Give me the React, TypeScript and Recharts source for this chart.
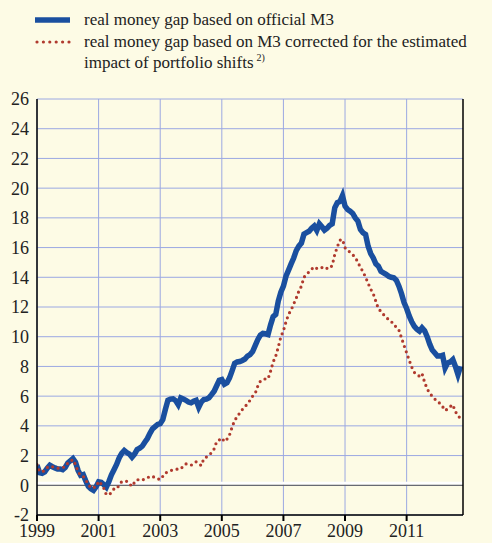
import { LineChart, Line, XAxis, YAxis, CartesianGrid, ReferenceLine } from 'recharts';

// monthly observations, Jan 1999 - Oct 2012
const START_YEAR = 1999;

const officialM3 = [
  // 1999
  1.36, 0.85, 0.8, 0.9, 1.15, 1.35, 1.25, 1.17, 1.1, 1.1, 1.05, 1.2,
  // 2000
  1.5, 1.65, 1.8, 1.55, 1.0, 0.67, 0.72, 0.3, -0.07, -0.24, -0.34, -0.1,
  // 2001
  0.23, 0.2, 0.05, -0.13, 0.25, 0.7, 1.05, 1.4, 1.84, 2.15, 2.34, 2.2,
  // 2002
  2.1, 1.89, 2.1, 2.4, 2.5, 2.63, 2.9, 3.15, 3.5, 3.8, 3.95, 4.1,
  // 2003
  4.15, 4.42, 5.1, 5.72, 5.8, 5.82, 5.7, 5.43, 5.88, 5.8, 5.72, 5.6,
  // 2004
  5.55, 5.65, 5.72, 5.25, 5.6, 5.77, 5.8, 5.89, 6.1, 6.33, 6.7, 7.07,
  // 2005
  7.12, 6.8, 6.9, 7.23, 7.7, 8.2, 8.3, 8.33, 8.4, 8.5, 8.7, 8.8,
  // 2006
  9.0, 9.4, 9.8, 10.1, 10.22, 10.2, 10.15, 10.8, 11.35, 11.5, 12.4, 13.0,
  // 2007
  13.4, 14.07, 14.48, 14.9, 15.3, 15.8, 16.1, 16.3, 16.9, 17.0, 17.1, 17.3,
  // 2008
  17.45, 17.15, 17.6, 17.4, 17.17, 17.3, 17.49, 17.6, 18.68, 19.02, 19.1, 19.5,
  // 2009
  18.79, 18.57, 18.45, 18.3, 18.0, 17.78, 17.22, 17.0, 16.88, 16.09, 15.6, 15.3,
  // 2010
  14.9, 14.75, 14.4, 14.3, 14.2, 14.07, 14.0, 13.97, 13.8, 13.4, 12.9, 12.3,
  // 2011
  11.9, 11.4, 11.0, 10.7, 10.5, 10.37, 10.6, 10.4, 10.0, 9.5, 9.1, 8.9,
  // 2012
  8.7, 8.7, 8.75, 7.9, 8.24, 8.3, 8.46, 8.0, 7.45, 8.0,
];

const correctedM3 = [
  // 1999
  1.39, 0.94, 0.9, 1.0, 1.2, 1.28, 1.25, 1.21, 1.15, 1.17, 1.2, 1.24,
  // 2000
  1.5, 1.62, 1.73, 1.4, 0.9, 0.67, 0.61, 0.35, 0.09, -0.18, -0.15, -0.11,
  // 2001
  0.27, 0.1, -0.18, -0.63, -0.63, -0.5, -0.24, -0.24, 0.0, 0.25, 0.26, 0.27,
  // 2002
  0.1, -0.07, 0.2, 0.38, 0.36, 0.34, 0.45, 0.5, 0.6, 0.61, 0.5, 0.45,
  // 2003
  0.38, 0.6, 0.83, 0.9, 0.99, 1.03, 1.06, 1.1, 1.1, 1.3, 1.44, 1.4,
  // 2004
  1.35, 1.45, 1.58, 1.45, 1.33, 1.8, 1.9, 2.02, 2.2, 2.45, 2.94, 3.05,
  // 2005
  3.19, 2.94, 3.1, 3.39, 3.91, 4.38, 4.6, 4.88, 5.1, 5.28, 5.5, 5.72,
  // 2006
  6.0, 6.18, 6.67, 7.0, 7.12, 7.16, 7.16, 7.68, 8.3, 8.69, 9.3, 10.0,
  // 2007
  10.4, 11.0, 11.5, 11.8, 12.2, 12.6, 13.06, 13.4, 14.0, 14.2, 14.37, 14.55,
  // 2008
  14.71, 14.6, 14.57, 14.65, 14.71, 14.6, 14.59, 14.8, 15.53, 16.05, 16.5, 16.55,
  // 2009
  15.99, 15.8, 15.69, 15.53, 15.3, 15.04, 14.64, 14.4, 14.0, 13.6, 13.2, 12.89,
  // 2010
  12.39, 11.88, 11.7, 11.49, 11.3, 11.16, 11.0, 10.89, 10.6, 10.44, 9.93, 9.41,
  // 2011
  8.92, 8.42, 7.95, 7.6, 7.45, 7.34, 7.52, 6.94, 6.49, 6.2, 5.99, 5.8,
  // 2012
  5.66, 5.5, 5.3, 5.03, 5.14, 5.3, 5.43, 4.94, 4.76, 4.42,
];

const yearTicks = [1999, 2001, 2003, 2005, 2007, 2009, 2011];
const valueTicks = [-2, 0, 2, 4, 6, 8, 10, 12, 14, 16, 18, 20, 22, 24, 26];

const legendOfficial = 'real money gap based on official M3';
const legendCorrected1 = 'real money gap based on M3 corrected for the estimated';
const legendCorrected2 = 'impact of portfolio shifts';

const BG = '#fdfbe5';
const BLUE = '#1a4f9f';
const RED = '#b03a2e';
const GRID = '#9ba8e2';
const FONT = "'Liberation Serif', serif";

const data = officialM3.map((v, i) => ({
  t: START_YEAR + i / 12,
  official: v,
  corrected: correctedM3[i],
}));

const tickStyle = { fontFamily: FONT, fontSize: 18, fill: '#222' };

function ZeroLine(props: any) {
  const { x1, x2, y1 } = props;
  return (
    <g>
      <line x1={x1} x2={x2} y1={y1 - 2} y2={y1 - 2} stroke="#ffffff" strokeWidth={3} />
      <line x1={x1} x2={x2} y1={y1} y2={y1} stroke="#555" strokeWidth={1} />
    </g>
  );
}

export default function App() {
  return (
    <div style={{ position: 'absolute', left: 0, top: 0, width: 492, height: 543, background: BG }}>
      <div style={{ position: 'absolute', left: 0, top: 0, width: 492, fontFamily: FONT, fontSize: 17, color: '#222' }}>
        <svg width={80} height={80} style={{ position: 'absolute', left: 0, top: 0 }}>
          <line x1={35} x2={70} y1={20} y2={20} stroke={BLUE} strokeWidth={5.5} />
          <line x1={37} x2={70} y1={42} y2={42} stroke={RED} strokeWidth={3.2} strokeLinecap="round" strokeDasharray="0 6.4" />
        </svg>
        <div style={{ position: 'absolute', left: 84, top: 9, whiteSpace: 'nowrap', lineHeight: '21.5px' }}>
          <div>{legendOfficial}</div>
          <div>{legendCorrected1}</div>
          <div>
            {legendCorrected2}
            <span style={{ fontSize: 10, position: 'relative', top: -7, marginLeft: 3 }}>2)</span>
          </div>
        </div>
      </div>
      <LineChart width={492} height={543} data={data} margin={{ top: 99, right: 0, bottom: 0, left: 0 }}>
        <CartesianGrid stroke={GRID} strokeWidth={1} horizontal={false} verticalValues={yearTicks} />
        {valueTicks.map((v) => (
          <ReferenceLine key={v} y={v} stroke={GRID} strokeWidth={1} />
        ))}
        <XAxis
          dataKey="t"
          type="number"
          domain={[1999, 2012.83]}
          ticks={yearTicks}
          allowDataOverflow
          height={28}
          tick={tickStyle}
          tickSize={6}
          tickMargin={3}
          axisLine={{ stroke: '#000', strokeWidth: 1.5 }}
          tickLine={{ stroke: '#000', strokeWidth: 2 }}
        />
        <YAxis
          orientation="left"
          domain={[-2, 26]}
          ticks={valueTicks}
          width={37}
          tick={tickStyle}
          tickLine={false}
          axisLine={{ stroke: '#000', strokeWidth: 1.5 }}
          interval={0}
        />
        <YAxis
          yAxisId="right"
          orientation="right"
          domain={[-2, 26]}
          ticks={valueTicks}
          width={29}
          tick={{ ...tickStyle, textAnchor: 'start' }}
          tickLine={false}
          axisLine={{ stroke: '#000', strokeWidth: 1.5 }}
          interval={0}
        />
        <ReferenceLine y={0} shape={ZeroLine} />
        <Line
          dataKey="official"
          stroke={BLUE}
          strokeWidth={5.5}
          dot={false}
          type="linear"
          isAnimationActive={false}
        />
        <Line
          dataKey="corrected"
          stroke={RED}
          strokeWidth={3.2}
          strokeLinecap="round"
          strokeDasharray="0 5.6"
          dot={false}
          type="linear"
          isAnimationActive={false}
        />
      </LineChart>
    </div>
  );
}
